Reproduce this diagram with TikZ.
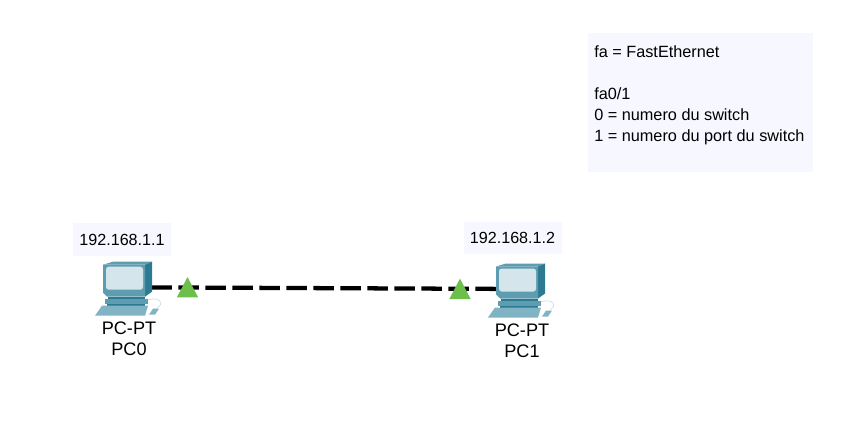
\documentclass[tikz,border=0pt]{standalone}
\usepackage{fontspec}
\setmainfont{Liberation Sans}
\usetikzlibrary{shapes.geometric,positioning}
\definecolor{boxbg}{HTML}{F7F8FF}
\definecolor{linkgreen}{HTML}{6CBF4B}
\definecolor{pcdark}{HTML}{2E7A92}
\definecolor{pcmid}{HTML}{5E9DB0}
\definecolor{pclight}{HTML}{8FBCCB}
\definecolor{pcscreen}{HTML}{D5E5EC}
\tikzset{
  iplabel/.style={fill=boxbg,minimum width=73.5pt,minimum height=24.5pt,inner sep=0pt,font=\fontsize{12.1pt}{14pt}\selectfont},
  pclabel/.style={align=center,inner sep=0pt,font=\fontsize{13.6pt}{15.9pt}\selectfont},
  notebox/.style={fill=boxbg,minimum width=169pt,minimum height=104pt,inner sep=0pt},
  notetext/.style={anchor=north west,align=left,inner sep=0pt,font=\fontsize{12.2pt}{15.9pt}\selectfont},
  pcicon/.style={minimum width=36pt,minimum height=10pt,inner sep=0pt},
  linkend/.style={isosceles triangle,isosceles triangle stretches,shape border rotate=90,anchor=south,fill=linkgreen,minimum width=16pt,minimum height=15.3pt,inner sep=0pt},
  link/.style={line width=3.2pt,dash pattern=on 15.5pt off 4.75pt},
  pc/.pic={
    \fill[pcmid] (8,3) -- (18,0) -- (57,0) -- (50,3) -- cycle;
    \fill[pcdark] (50,3) -- (57,0) -- (57,30) -- (50,35) -- cycle;
    \fill[pcmid] (8,3) -- (50,3) -- (50,35) -- (12,35) -- (8,31) -- cycle;
    \fill[pcscreen,rounded corners=2pt] (11,5) rectangle (48,28);
    \fill[pcdark] (13,35) rectangle (50,37);
    \fill[pcmid] (10,37) -- (53,37) -- (53,42) -- (10,42) -- cycle;
    \fill[pcdark] (12,42) rectangle (50,44);
    \fill[pclight!70!pcmid] (0,54) -- (50,54) -- (53,44) -- (7,44) -- cycle;
    \fill[pclight!70!pcmid] (54,53) -- (60,53) -- (64,47) -- (58,47) -- cycle;
    \draw[pclight!50,line width=0.5pt] (53,38) .. controls (65,35) and (70,42) .. (62,46);
  },
}
\begin{document}
\begin{tikzpicture}[x=0.75pt,y=-0.75pt]
\useasboundingbox (0,0) rectangle (868,428);
\node[notebox] (notes) at (700.5,102.5) {};
\node[notetext] (notestext) at (594,45) {fa = FastEthernet\\[15.9pt]fa0/1\\0 = numero du switch\\1 = numero du port du switch};

\node[pcicon] (pc0) at (127,287.3) {};
\node[pcicon] (pc1) at (521,289) {};
\node[iplabel] (ip0) at (122,239.5) {192.168.1.1};
\node[iplabel] (ip1) at (512.5,238) {192.168.1.2};
\node[pclabel] (name0) at (129,338.5) {PC-PT\\PC0};
\node[pclabel] (name1) at (522,341) {PC-PT\\PC1};

\draw[link] (pc0) -- (pc1);
\pic at (95,261.7) {pc};
\pic at (488,263.5) {pc};

\node[linkend] (end0) at (187.5,297.7) {};
\node[linkend] (end1) at (460,299.3) {};
\end{tikzpicture}
\end{document}
